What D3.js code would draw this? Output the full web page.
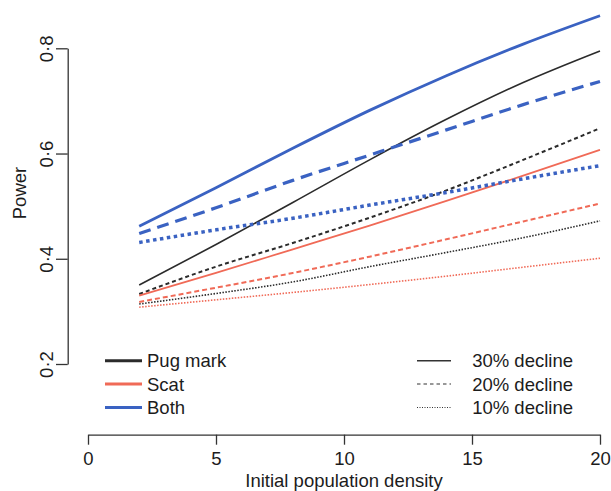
<!DOCTYPE html>
<html>
<head>
<meta charset="utf-8">
<script src="https://cdn.jsdelivr.net/npm/d3@7"></script>
<style>
  body { margin: 0; background: #fff; }
  svg { display: block; font-family: "Liberation Sans", Arial, sans-serif; }
</style>
</head>
<body>
<script>
// Size of the svg
const w = 611;
const h = 491;

// Data: initial population density vs power
const density = [2, 5, 8, 11, 14, 17, 20];

const pug30 = [0.35, 0.427, 0.507, 0.588, 0.665, 0.735, 0.795];
const pug20 = [0.333, 0.385, 0.43, 0.478, 0.53, 0.588, 0.648];
const pug10 = [0.314, 0.334, 0.356, 0.385, 0.412, 0.44, 0.472];

const scat30 = [0.33, 0.373, 0.418, 0.463, 0.51, 0.558, 0.607];
const scat20 = [0.318, 0.345, 0.373, 0.404, 0.437, 0.471, 0.505];
const scat10 = [0.308, 0.322, 0.336, 0.351, 0.367, 0.384, 0.401];

const both30 = [0.462, 0.535, 0.61, 0.682, 0.748, 0.808, 0.862];
const both20 = [0.448, 0.497, 0.549, 0.597, 0.645, 0.693, 0.737];
const both10 = [0.431, 0.455, 0.477, 0.502, 0.526, 0.552, 0.577];

const xTicks = [0, 5, 10, 15, 20];
const yTicks = [0.2, 0.4, 0.6, 0.8];
const yTickLabels = ["0·2", "0·4", "0·6", "0·8"];

const methods = ["Pug mark", "Scat", "Both"];
const declines = ["30% decline", "20% decline", "10% decline"];

// styles
const colors = { "Pug mark": "#2b2b2b", "Scat": "#f06a57", "Both": "#3a62c2" };
const fontSize = "18.5px";
const textColor = "#1c1c1c";

const svg = d3.select("body").append("svg").attr("width", w).attr("height", h);

// scales
const xScale = d3.scaleLinear().domain([0, 20]).range([88, 600]);
const yScale = d3.scaleLinear().domain([0.2, 0.8]).range([364, 48.3]);

// series table, built from the arrays above
const series = [
  { values: pug30, method: "Pug mark", width: 1.6, dash: null },
  { values: pug20, method: "Pug mark", width: 2, dash: "4,3" },
  { values: pug10, method: "Pug mark", width: 1.6, dash: "1.5,1.5" },
  { values: scat30, method: "Scat", width: 1.8, dash: null },
  { values: scat20, method: "Scat", width: 2, dash: "5,3" },
  { values: scat10, method: "Scat", width: 1.6, dash: "1.5,1.5" },
  { values: both30, method: "Both", width: 2.8, dash: null },
  { values: both20, method: "Both", width: 3.2, dash: "12,7" },
  { values: both10, method: "Both", width: 3.5, dash: "3.5,3.5" },
];

const line = d3
  .line()
  .x(function (d, i) {
    return xScale(density[i]);
  })
  .y(function (d) {
    return yScale(d);
  })
  .curve(d3.curveMonotoneX);

svg
  .append("g")
  .selectAll("path")
  .data(series)
  .enter()
  .append("path")
  .attr("d", function (d) {
    return line(d.values);
  })
  .attr("fill", "none")
  .attr("stroke", function (d) {
    return colors[d.method];
  })
  .attr("stroke-width", function (d) {
    return d.width;
  })
  .attr("stroke-dasharray", function (d) {
    return d.dash;
  });

/* --- axes --- */
const xAxis = d3.axisBottom(xScale).tickValues(xTicks).tickSize(10).tickSizeOuter(0).tickPadding(7);
const yAxis = d3
  .axisLeft(yScale)
  .tickValues(yTicks)
  .tickSize(11.7)
  .tickSizeOuter(0)
  .tickFormat(function (d, i) {
    return yTickLabels[i];
  });

const gx = svg
  .append("g")
  .attr("transform", "translate(0," + 434.7 + ")")
  .call(xAxis);

const gy = svg
  .append("g")
  .attr("transform", "translate(" + 67.7 + ",0)")
  .call(yAxis);

// R-ish axis look
[gx, gy].forEach(function (g) {
  g.selectAll("path, line").attr("stroke", "#333").attr("stroke-width", 1.3);
  g.selectAll("text").attr("font-size", fontSize).attr("fill", textColor).attr("font-family", null);
});

// y labels are rotated
gy.selectAll(".tick text")
  .attr("x", 0)
  .attr("dy", 0)
  .attr("text-anchor", "middle")
  .attr("transform", "translate(-14.7,0) rotate(-90)");

// axis titles
svg
  .append("text")
  .attr("x", 344)
  .attr("y", 487)
  .attr("text-anchor", "middle")
  .attr("font-size", fontSize)
  .attr("fill", textColor)
  .text("Initial population density");

svg
  .append("text")
  .attr("transform", "translate(26,193) rotate(-90)")
  .attr("text-anchor", "middle")
  .attr("font-size", fontSize)
  .attr("fill", textColor)
  .text("Power");

/* --- legends --- */
const legendY = [360.7, 384, 407.5];

const leftLegend = svg
  .append("g")
  .selectAll("g")
  .data(methods)
  .enter()
  .append("g")
  .attr("transform", function (d, i) {
    return "translate(0," + legendY[i] + ")";
  });

leftLegend
  .append("line")
  .attr("x1", 105)
  .attr("x2", 142)
  .attr("stroke", function (d) {
    return colors[d];
  })
  .attr("stroke-width", 3);

leftLegend
  .append("text")
  .attr("x", 147)
  .attr("dy", "0.36em")
  .attr("font-size", fontSize)
  .attr("fill", textColor)
  .text(function (d) {
    return d;
  });

const legendDash = [null, "3.5,3", "1,1.5"];

const rightLegend = svg
  .append("g")
  .selectAll("g")
  .data(declines)
  .enter()
  .append("g")
  .attr("transform", function (d, i) {
    return "translate(0," + legendY[i] + ")";
  });

rightLegend
  .append("line")
  .attr("x1", 417)
  .attr("x2", 451)
  .attr("stroke", "#333")
  .attr("stroke-width", function (d, i) {
    return i === 0 ? 1.4 : 1.1;
  })
  .attr("stroke-dasharray", function (d, i) {
    return legendDash[i];
  });

rightLegend
  .append("text")
  .attr("x", 573)
  .attr("dy", "0.36em")
  .attr("text-anchor", "end")
  .attr("font-size", fontSize)
  .attr("fill", textColor)
  .text(function (d) {
    return d;
  });
</script>
</body>
</html>
